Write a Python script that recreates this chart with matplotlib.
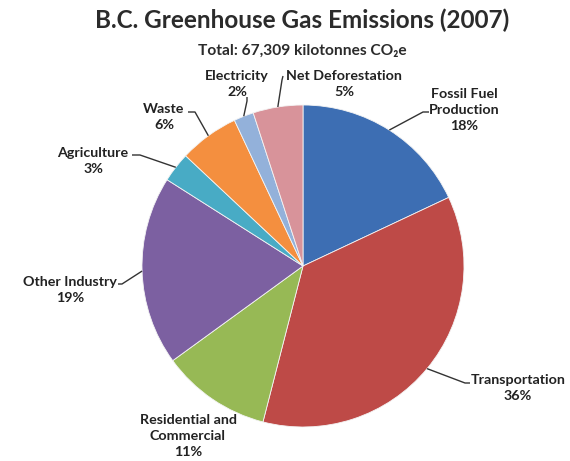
import matplotlib.pyplot as plt
import numpy as np

# data
sectors = ['Fossil Fuel\nProduction', 'Transportation', 'Residential and\nCommercial',
           'Other Industry', 'Agriculture', 'Waste', 'Electricity', 'Net Deforestation']
shares = [18, 36, 11, 19, 3, 6, 2, 5]
colors = ['#3D6EB3', '#BE4A47', '#97B955', '#7C60A1', '#48ABC5', '#F48F3F', '#93B1DA', '#D8939A']

title = 'B.C. Greenhouse Gas Emissions (2007)'
subtitle = 'Total: 67,309 kilotonnes CO\u2082e'

W, H = 570, 461
FONT = ['Lato', 'DejaVu Sans']

fig = plt.figure(figsize=(W / 100, H / 100), dpi=100)
ax = fig.add_axes([0, 0, 1, 1])

cx, cy, r = 303, H - 266, 161
wedges, _ = ax.pie(shares, colors=colors, startangle=90, counterclock=False,
                   center=(cx, cy), radius=r, frame=True,
                   wedgeprops=dict(edgecolor='#f4f4f4', linewidth=0.6))
ax.set_xlim(0, W)
ax.set_ylim(0, H)
ax.axis('off')

# label placement (pixel coords from top): text centre, leader elbow, stub end
layout = [
    ((464, 110), (423, 112), (429, 112)),
    ((518, 388), (465, 383), (470, 383)),
    ((188, 436), None, None),
    ((70, 290), (122, 284), (118, 284)),
    ((93, 161), (140, 155), (132, 155)),
    ((164, 117), (195, 112), (188, 112)),
    ((237, 84), (247, 101), (247, 97)),
    ((344, 84), (282, 80), (283, 76)),
]

for w, name, pct, (txt, elbow, stub) in zip(wedges, sectors, shares, layout):
    mid = np.deg2rad((w.theta1 + w.theta2) / 2)
    ax_, ay_ = cx + r * np.cos(mid), cy + r * np.sin(mid)
    ax.text(txt[0], H - txt[1], f'{name}\n{pct}%', ha='center', va='center',
            fontsize=10.3, fontweight='bold', color='#222222', family=FONT,
            linespacing=1.4)
    if elbow is not None:
        ax.plot([ax_, elbow[0], stub[0]], [ay_, H - elbow[1], H - stub[1]],
                color='#333333', linewidth=1.0, solid_capstyle='butt')

fig.text(302 / W, 1 - 20 / H, title, ha='center', va='center', fontsize=17.5,
         fontweight='bold', color='#2b2b2b', family=FONT)
fig.text(302 / W, 1 - 51 / H, subtitle, ha='center', va='center', fontsize=11.2,
         fontweight='bold', color='#2b2b2b', family=FONT)

fig.savefig('out.png', dpi=100, facecolor='white')
